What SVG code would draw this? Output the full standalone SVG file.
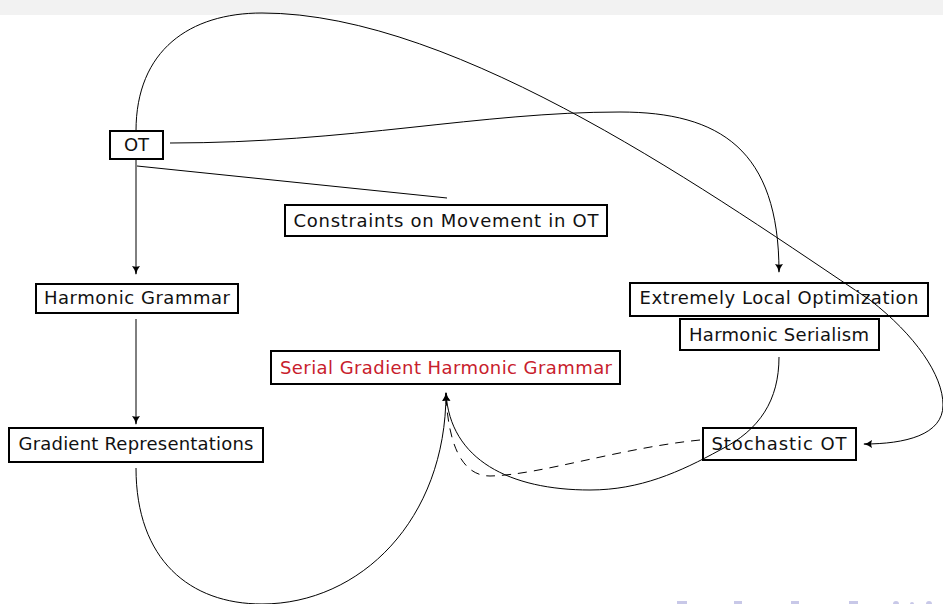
<svg xmlns="http://www.w3.org/2000/svg" width="943" height="604" viewBox="0 0 943 604">
<style>
.box{fill:#fff;stroke:#000;stroke-width:2}
.lbl{font-family:"DejaVu Sans","Liberation Sans",sans-serif;font-size:18px;fill:#111;text-anchor:middle}
.red{fill:#c8202c}
.edge{fill:none;stroke:#000;stroke-width:1}
.dash{stroke-dasharray:9,7}
.nav{fill:#c8c8e8}
</style>
<defs>
<marker id="arr" viewBox="0 0 10 10" refX="9" refY="5" markerWidth="9" markerHeight="9" markerUnits="userSpaceOnUse" orient="auto">
<path d="M0,0.5 Q4,4 10,5 Q4,6 0,9.5 Q2,5 0,0.5 Z" fill="#000"/>
</marker>
</defs>
<rect x="0" y="0" width="943" height="15" fill="#f2f2f2"/>
<g id="n-ot"><rect class="box" x="110" y="131" width="53" height="28"/><text class="lbl" x="136.5" y="151">OT</text></g>
<g id="n-constraints"><rect class="box" x="285" y="205" width="322" height="31"/><text class="lbl" x="446" y="227" textLength="305">Constraints on Movement in OT</text></g>
<g id="n-hg"><rect class="box" x="36" y="284" width="202" height="29"/><text class="lbl" x="137" y="304" textLength="186">Harmonic Grammar</text></g>
<g id="n-elo"><rect class="box" x="630" y="283" width="298" height="33"/><text class="lbl" x="779" y="304" textLength="279">Extremely Local Optimization</text></g>
<g id="n-hs"><rect class="box" x="680" y="319" width="199" height="31"/><text class="lbl" x="779" y="341" textLength="180">Harmonic Serialism</text></g>
<g id="n-sghg"><rect class="box" x="271" y="351" width="349" height="33"/><text class="lbl red" x="446" y="374" textLength="332">Serial Gradient Harmonic Grammar</text></g>
<g id="n-gr"><rect class="box" x="9" y="428" width="254" height="34"/><text class="lbl" x="136" y="450" textLength="235">Gradient Representations</text></g>
<g id="n-sot"><rect class="box" x="703" y="428" width="153" height="32"/><text class="lbl" x="779" y="450" textLength="135">Stochastic OT</text></g>
<g id="connectors">
<path class="edge" d="M136,158 L136,274" marker-end="url(#arr)"/>
<path class="edge" d="M136,319 L136,424" marker-end="url(#arr)"/>
<path class="edge" d="M137,166 L447,198"/>
<path class="edge" d="M170,143 C350,143 480,112 620,112 C720,112 779,150 779,272" marker-end="url(#arr)"/>
<path class="edge" d="M136,131 C136,50 190,13 262,13 C460,13 720,200 870,300 C915,335 943,375 943,405 C943,435 905,444 864,444" marker-end="url(#arr)"/>
<path class="edge" d="M779,357 C779,400 760,430 720,450 C680,472 640,490 590,490 C510,490 450,460 446,393" marker-end="url(#arr)"/>
<path class="edge" d="M136,468 C136,560 190,604 262,604 C360,604 446,520 446,393" marker-end="url(#arr)"/>
<path class="edge dash" d="M700,440 C620,448 540,475 490,476 C460,476 448,440 446,395"/>
</g>
<g id="nav">
<rect class="nav" x="677" y="601" width="10" height="3"/>
<rect class="nav" x="734" y="601" width="8" height="3"/>
<rect class="nav" x="791" y="601" width="8" height="3"/>
<rect class="nav" x="849" y="601" width="9" height="3"/>
<circle class="nav" cx="896" cy="604" r="3"/>
<circle class="nav" cx="912" cy="604" r="2"/>
<circle class="nav" cx="929" cy="604" r="3"/>
</g>
</svg>
